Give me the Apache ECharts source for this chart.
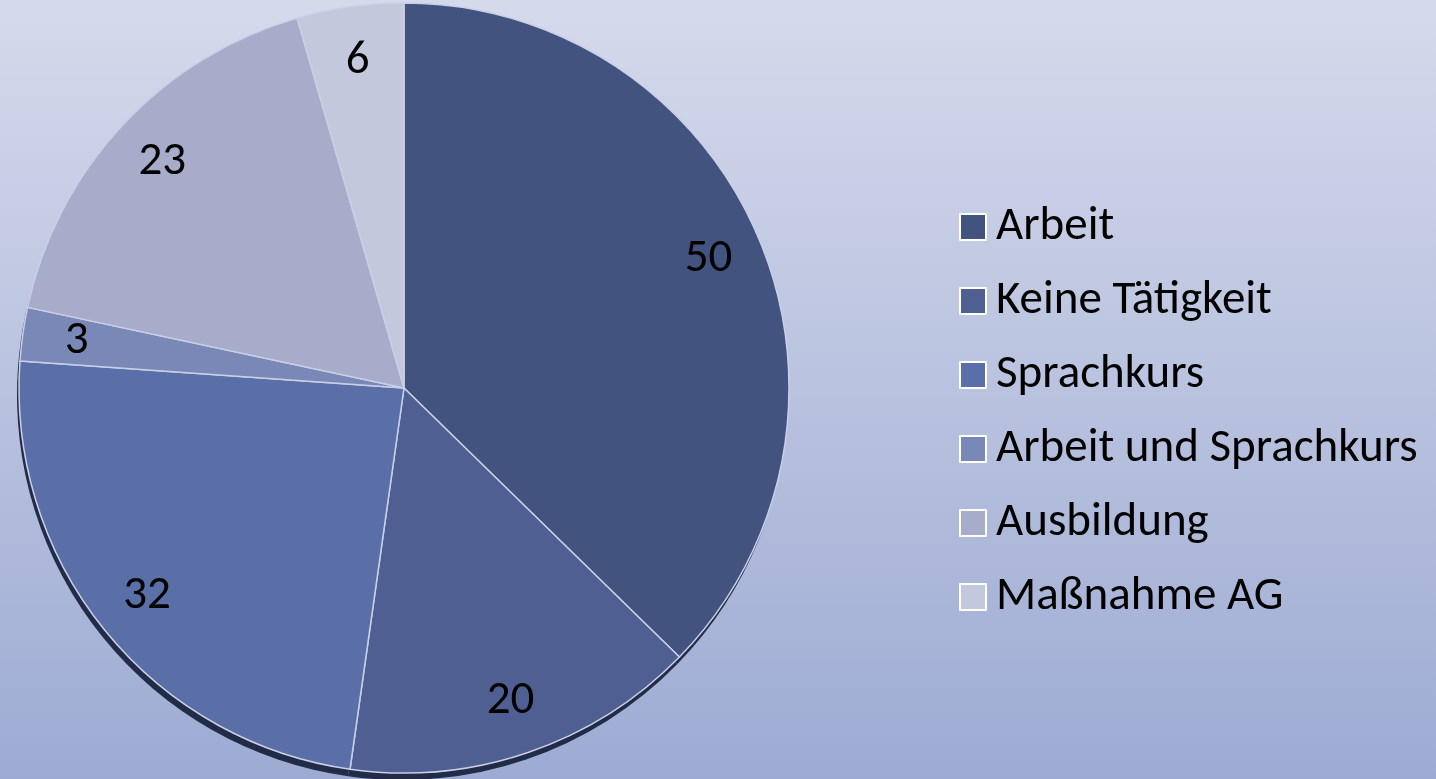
<!DOCTYPE html>
<html>
<head>
<meta charset="utf-8">
<script src="https://cdn.jsdelivr.net/npm/echarts@6/dist/echarts.min.js"></script>
<style>html,body{margin:0;padding:0;}#c{width:1436px;height:779px;}</style>
</head>
<body>
<div id="c"></div>
<script>
const categories = ['Arbeit', 'Keine Tätigkeit', 'Sprachkurs', 'Arbeit und Sprachkurs', 'Ausbildung', 'Maßnahme AG'];
const values = [50, 20, 32, 3, 23, 6];
const colors = ['#435380', '#4f5f92', '#5a6ea8', '#7a88b8', '#a6acca', '#c4c8dc'];

const FONT = "'Carlito', 'Noto Sans', sans-serif";
const chart = echarts.init(document.getElementById('c'));
const mainData = categories.map((n, i) => ({ name: n, value: values[i], itemStyle: { color: colors[i] } }));
const labelData = categories.map((n, i) => ({ name: n, value: values[i] }));
const shadowData = categories.map((n, i) => ({ name: n, value: values[i] }));

chart.setOption({
  backgroundColor: new echarts.graphic.LinearGradient(0, 0, 0, 1, [
    { offset: 0, color: '#d5daeb' },
    { offset: 1, color: '#9dabd3' }
  ]),
  animation: false,
  legend: {
    orient: 'vertical',
    left: 954,
    top: 194,
    itemWidth: 26,
    itemHeight: 26,
    itemGap: 18,
    icon: 'rect',
    selectedMode: false,
    textStyle: { fontFamily: FONT, fontSize: 47, color: '#000', lineHeight: 56, padding: [0, 0, 0, 5] },
    data: categories.map((n, i) => ({ name: n, itemStyle: { color: colors[i], borderColor: '#ffffff', borderWidth: 2 } }))
  },
  series: [
    {
      type: 'pie',
      name: 'rim',
      z: 1,
      silent: true,
      center: [402, 395],
      radius: 385,
      startAngle: 90,
      label: { show: false },
      labelLine: { show: false },
      itemStyle: { color: '#222b47', borderWidth: 0 },
      emphasis: { disabled: true },
      legendHoverLink: false,
      data: shadowData
    },
    {
      type: 'pie',
      name: 'main',
      z: 2,
      center: [404, 388],
      radius: 385,
      startAngle: 90,
      label: { show: false },
      labelLine: { show: false },
      itemStyle: { borderColor: '#c9d0e6', borderWidth: 1.5 },
      emphasis: { disabled: true },
      data: mainData
    },
    {
      type: 'pie',
      name: 'labels',
      z: 3,
      silent: true,
      center: [404, 388],
      radius: [270, 385],
      startAngle: 90,
      itemStyle: { color: 'rgba(0,0,0,0)', borderWidth: 0 },
      label: { show: true, position: 'inside', formatter: '{c}', fontFamily: FONT, fontSize: 47, color: '#000' },
      labelLine: { show: false },
      emphasis: { disabled: true },
      data: labelData
    }
  ]
});
</script>
</body>
</html>
